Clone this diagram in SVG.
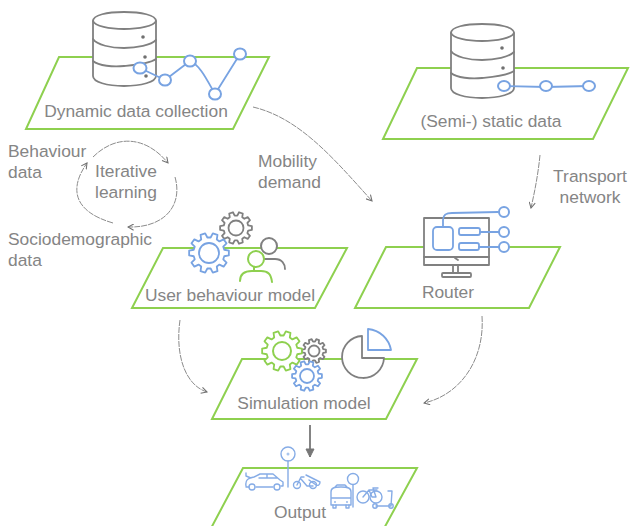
<svg xmlns="http://www.w3.org/2000/svg" xmlns:xlink="http://www.w3.org/1999/xlink" width="630" height="526" viewBox="0 0 630 526">
<style>
text{font-family:"Liberation Sans",Arial,sans-serif;font-size:17.4px;fill:#858585}
.m{text-anchor:middle}
.plane{fill:#fff;stroke:#8ed04f;stroke-width:2}
.grey{fill:none;stroke:#808080;stroke-width:1.8;stroke-linecap:round;stroke-linejoin:round}
.fillw{fill:#fff;stroke:#808080;stroke-width:1.8;stroke-linejoin:round}
.blue{fill:none;stroke:#78a3e2;stroke-width:1.8;stroke-linecap:round;stroke-linejoin:round}
.node{fill:#fff;stroke:#78a3e2;stroke-width:2}
.green{fill:none;stroke:#8ed04f;stroke-width:2;stroke-linecap:round}
.thin{fill:none;stroke:#8c8c8c;stroke-width:1;stroke-dasharray:6 1;marker-end:url(#a)}
.veh{fill:none;stroke:#86ace6;stroke-width:1.4;stroke-linecap:round;stroke-linejoin:round}
.gear{vector-effect:non-scaling-stroke;stroke-linejoin:round}
.dot{fill:#707070}
</style>
<defs>
<marker id="a" viewBox="0 0 8 8" refX="7" refY="4" markerWidth="7" markerHeight="7" markerUnits="userSpaceOnUse" orient="auto"><path d="M0.5 0.5L7 4L0.5 7.5" fill="none" stroke="#707070" stroke-width="1.2"/></marker>
<marker id="b" viewBox="0 0 10 10" refX="9" refY="5" markerWidth="10" markerHeight="10" markerUnits="userSpaceOnUse" orient="auto"><path d="M1 1L9 5L1 9Z" fill="#777" stroke="#777" stroke-width="1"/></marker>
<path id="g" class="gear" d="M9.93-1.22L9.93 1.22 7.63 1.62 7.13 3.17 8.75 4.85 7.31 6.82 5.22 5.8 3.9 6.75 4.23 9.06 1.91 9.82 .82 7.76-.82 7.76-1.91 9.82-4.23 9.06-3.9 6.75-5.22 5.8-7.31 6.82-8.75 4.85-7.13 3.17-7.63 1.62-9.93 1.22-9.93-1.22-7.63-1.62-7.13-3.17-8.75-4.85-7.31-6.82-5.22-5.8-3.9-6.75-4.23-9.06-1.91-9.82-.82-7.76.82-7.76 1.91-9.82 4.23-9.06 3.9-6.75 5.22-5.8 7.31-6.82 8.75-4.85 7.13-3.17 7.63-1.62Z"/>
<g id="cyl">
<path class="fillw" d="M0 9C0 3 14 0 31 0S63 3 63 9V64C63 70 48 74 31 74S0 70 0 64Z"/>
<path class="grey" d="M0 9C2 14 16 17 31 17S61 14 63 9M0 27C4 33 18 36 31 36S58 33 63 28M0 49C6 54 20 55 31 54S56 52 63 47"/>
</g>
</defs>

<g id="connectors">
<path class="thin" d="M253 107C300 118 335 160 372 201"/>
<path class="thin" d="M540 155C538 175 535 190 531 208"/>
<path class="thin" d="M180 320C175 355 185 385 207 392"/>
<path class="thin" d="M482 316C485 360 460 395 424 403"/>
<path class="thin" d="M93 157C115 135 145 135 168 163"/>
<path class="thin" d="M175 177C183 205 165 228 128 227"/>
<path class="thin" d="M113 223C75 212 68 190 87 163"/>
<path d="M310 425V457" fill="none" stroke="#777" stroke-width="1.8" marker-end="url(#b)"/>
</g>

<g id="dynamic-data-collection">
<path class="plane" d="M59 57H269L233 129H26Z"/>
<use xlink:href="#cyl" href="#cyl" x="93" y="12"/>
<circle class="dot" cx="143" cy="37" r="1.8"/><circle class="dot" cx="145" cy="57" r="1.8"/><circle class="dot" cx="146" cy="76" r="1.8"/>
<path class="blue" d="M140 68L165 80 190 61C200 65 207 80 215 94L240 54"/>
<ellipse class="node" cx="140" cy="68" rx="6.5" ry="5.5"/><ellipse class="node" cx="165" cy="80" rx="6" ry="5.5"/><ellipse class="node" cx="190" cy="61" rx="6" ry="5.5"/><ellipse class="node" cx="215" cy="94" rx="6" ry="5.5"/><ellipse class="node" cx="240" cy="54" rx="6" ry="5.5"/>
<text class="m" x="136" y="117">Dynamic data collection</text>
</g>

<g id="static-data">
<path class="plane" d="M417 68H628L593 139H383Z"/>
<use xlink:href="#cyl" href="#cyl" x="451" y="24"/>
<circle class="dot" cx="502" cy="48" r="1.8"/><circle class="dot" cx="503" cy="68" r="1.8"/>
<path class="blue" d="M504 86L546 87 589 86"/>
<ellipse class="node" cx="504" cy="86" rx="6" ry="5"/><ellipse class="node" cx="546" cy="86" rx="6" ry="5"/><ellipse class="node" cx="589" cy="86" rx="6" ry="5"/>
<text class="m" x="491" y="127">(Semi-) static data</text>
</g>

<g id="iterative-learning">
<text class="m" x="126" y="177">Iterative</text>
<text class="m" x="126" y="198">learning</text>
</g>
<g id="behaviour-data"><text x="8" y="157">Behaviour</text><text x="8" y="178">data</text></g>
<g id="sociodemographic-data"><text x="8" y="245">Sociodemographic</text><text x="8" y="266">data</text></g>
<g id="mobility-demand"><text x="258" y="167">Mobility</text><text x="258" y="188">demand</text></g>
<g id="transport-network"><text class="m" x="590" y="182">Transport</text><text class="m" x="590" y="203">network</text></g>

<g id="user-behaviour-model">
<path class="plane" d="M163 248H347L315 308H132Z"/>
<use xlink:href="#g" href="#g" transform="translate(236 228) scale(1.6)" fill="#fff" stroke="#808080" stroke-width="1.8"/>
<circle class="grey" cx="236" cy="228" r="7.5"/>
<use xlink:href="#g" href="#g" transform="translate(209 253) scale(2)" fill="#fff" stroke="#78a3e2" stroke-width="1.8"/>
<circle class="blue" cx="209" cy="253" r="10"/>
<path class="grey" d="M262 259H275C282 259 285 264 285 269"/>
<circle cx="269" cy="246" r="8" fill="#fff" stroke="#808080" stroke-width="2"/>
<circle cx="256" cy="259" r="8" fill="#fff" stroke="#8ed04f" stroke-width="2"/>
<path class="green" d="M240 281C240 273 245 271 252 271H261C268 271 271 274 272 282M254 267V271"/>
<text class="m" x="230" y="301">User behaviour model</text>
</g>

<g id="router">
<path class="plane" d="M386 247H560L529 308H355Z"/>
<path class="fillw" d="M424 218H489V265H424Z"/>
<path class="grey" d="M424 257H489M455 258L458 260M453 265V273M458 265V273"/>
<rect class="grey" x="442" y="273" width="29" height="4" rx="1"/>
<path class="blue" d="M443 227V220C443 214 447 213 452 213L498 212"/>
<rect x="433" y="227" width="20" height="23" rx="4" fill="#fff" stroke="#78a3e2" stroke-width="1.8"/>
<rect x="459" y="228" width="21" height="7" rx="2" fill="#fff" stroke="#78a3e2" stroke-width="1.8"/>
<rect x="459" y="243" width="20" height="7" rx="2" fill="#fff" stroke="#78a3e2" stroke-width="1.8"/>
<path class="blue" d="M480 232H499M479 247H499"/>
<circle class="node" cx="504" cy="212" r="5"/><circle class="node" cx="504" cy="232" r="5"/><circle class="node" cx="504" cy="247" r="5"/>
<text class="m" x="448" y="298">Router</text>
</g>

<g id="simulation-model">
<path class="plane" d="M242 359H417L386 419H212Z"/>
<use xlink:href="#g" href="#g" transform="translate(314 351) scale(1.2)" fill="#fff" stroke="#808080" stroke-width="1.8"/>
<circle class="grey" cx="314" cy="351" r="5.5"/>
<use xlink:href="#g" href="#g" transform="translate(282 351) scale(2)" fill="#fff" stroke="#8ed04f" stroke-width="1.8"/>
<circle class="green" cx="282" cy="351" r="9"/>
<use xlink:href="#g" href="#g" transform="translate(307 376) scale(1.5)" fill="#fff" stroke="#78a3e2" stroke-width="1.8"/>
<circle class="blue" cx="307" cy="376" r="7"/>
<path class="fillw" d="M362 336A21 21 0 1 0 384 358H362Z"/>
<path fill="#fff" stroke="#78a3e2" stroke-width="1.8" stroke-linejoin="round" d="M368 329C380 330 389 339 391 350H368Z"/>
<text class="m" x="304" y="409">Simulation model</text>
</g>

<g id="output">
<path class="plane" d="M243 468H417L382 532H209Z"/>
<path class="veh" d="M288 461V487M353 485V507"/>
<circle class="veh" cx="288" cy="454" r="7"/>
<circle fill="#a9c6ee" cx="288" cy="454" r="1.5"/>
<circle class="veh" cx="353" cy="479" r="5.5"/>
<path class="veh" d="M246 486C245 480 248 478 254 477L260 474H273L280 480 283 482V486H281M273 487H256M249 487H246M251 478L246 476V473M259 478H277M267 474V478"/>
<circle class="veh" cx="252" cy="487" r="3"/><circle class="veh" cx="277" cy="487" r="3"/>
<circle class="veh" cx="297" cy="485" r="3.5"/><circle class="veh" cx="313" cy="485" r="3.5"/>
<path class="veh" d="M297 485L301 477H304M301 479L307 486H313M306 475L320 482C320 485 318 486 316 485L309 480"/>
<path class="veh" d="M331 492C331 488 334 487 341 487S351 488 351 492V505H331ZM331 498H351M335 487L337 485H345L347 487"/>
<path class="veh" d="M333 505V508H336V505M346 505V508H349V505"/>
<circle cx="335" cy="502" r=".9" fill="#8bb0e8"/><circle cx="347" cy="502" r=".9" fill="#8bb0e8"/>
<circle class="veh" cx="363" cy="497" r="6"/><circle class="veh" cx="376" cy="497" r="6"/>
<path class="veh" d="M363 497L369 490H377M369 490L372 497H376L373 488H378"/>
<path class="veh" d="M388 491H392L391 506H376"/>
<circle class="veh" cx="375" cy="506" r="2.2"/><circle class="veh" cx="391" cy="506" r="2.2"/>
<text class="m" x="300" y="518">Output</text>
</g>
</svg>
